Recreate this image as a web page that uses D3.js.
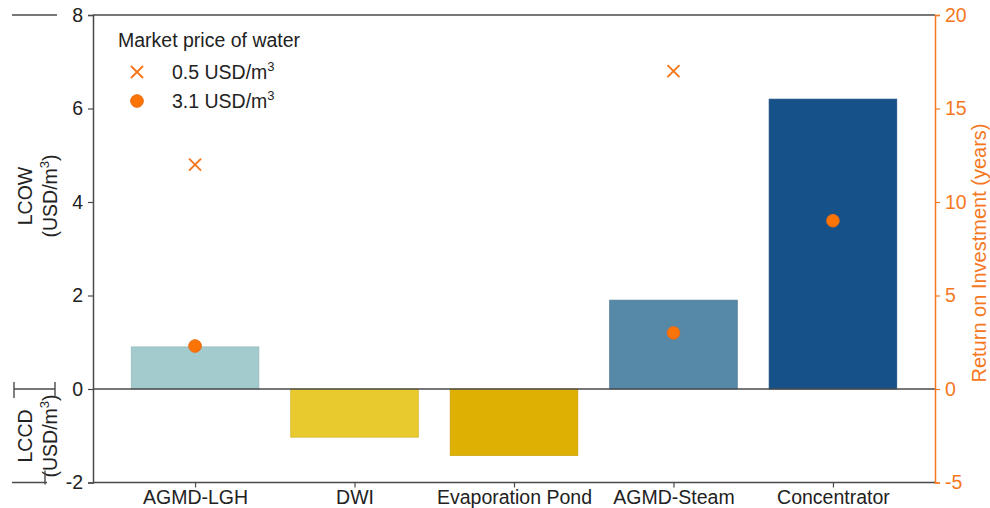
<!DOCTYPE html>
<html>
<head>
<meta charset="utf-8">
<script src="https://cdn.jsdelivr.net/npm/d3@7/dist/d3.min.js"></script>
<style>
  html, body { margin: 0; padding: 0; background: #fff; }
  svg { display: block; font-family: "Liberation Sans", Arial, sans-serif; }
</style>
</head>
<body>
<svg id="chart" width="990" height="508"></svg>
<script>
// Treatment options and their levelized costs (USD/m3; negative = disposal cost)
const categories = ["AGMD-LGH", "DWI", "Evaporation Pond", "AGMD-Steam", "Concentrator"];
const costValues = [0.9, -1.03, -1.42, 1.9, 6.2];
const barColors = ["#a3cbce", "#e8c92e", "#dfb004", "#5688a8", "#17518a"];

// Return on investment (years) at two market prices of water
const roiLowPrice = [12, null, null, 17, null];   // 0.5 USD/m3
const roiHighPrice = [2.3, null, null, 3.0, 9.0]; // 3.1 USD/m3

const leftTicks = [-2, 0, 2, 4, 6, 8];
const rightTicks = [-5, 0, 5, 10, 15, 20];

const orange = "#f5781e";
const spine = "#4a4a4a";
const textCol = "#222";
const fontSize = 19.5;

const svg = d3.select("#chart");

const plot = { left: 93, right: 935, top: 15, bottom: 482.5 };

// x: bar index, bars 0.8 wide with a 5% margin either side
const x = d3.scaleLinear().domain([-0.64, 4.64]).range([plot.left, plot.right]);
const y = d3.scaleLinear().domain([-2, 8]).range([plot.bottom, plot.top]);
const y2 = d3.scaleLinear().domain([-5, 20]).range([plot.bottom, plot.top]);

// plain hyphen for negative tick values
const plainFormat = d => String(d);

// Bars
svg.append("g").selectAll("rect")
  .data(costValues)
  .join("rect")
  .attr("x", (d, i) => x(i - 0.4))
  .attr("width", (d, i) => x(i + 0.4) - x(i - 0.4))
  .attr("y", d => y(Math.max(0, d)))
  .attr("height", d => Math.abs(y(d) - y(0)))
  .attr("fill", (d, i) => barColors[i])
  .attr("stroke", (d, i) => d3.color(barColors[i]).darker(0.25))
  .attr("stroke-width", 0.8);

// Zero line
svg.append("line")
  .attr("x1", plot.left).attr("x2", plot.right)
  .attr("y1", y(0)).attr("y2", y(0))
  .attr("stroke", spine).attr("stroke-width", 1.5);

// Frame: top and bottom in grey
svg.append("line").attr("x1", plot.left).attr("x2", plot.right)
  .attr("y1", plot.top).attr("y2", plot.top)
  .attr("stroke", spine).attr("stroke-width", 1.5);
svg.append("line").attr("x1", plot.left).attr("x2", plot.right)
  .attr("y1", plot.bottom).attr("y2", plot.bottom)
  .attr("stroke", spine).attr("stroke-width", 1.5);

// Left axis
const gLeft = svg.append("g")
  .attr("transform", `translate(${plot.left},0)`)
  .call(d3.axisLeft(y).tickValues(leftTicks).tickFormat(plainFormat).tickSize(5).tickPadding(5));
gLeft.select(".domain").attr("stroke", spine).attr("stroke-width", 1.5);
gLeft.selectAll(".tick line").attr("stroke", spine).attr("stroke-width", 1.2);
gLeft.selectAll(".tick text").attr("fill", textCol).attr("font-size", fontSize).attr("font-family", null);

// Right axis in orange
const gRight = svg.append("g")
  .attr("transform", `translate(${plot.right},0)`)
  .call(d3.axisRight(y2).tickValues(rightTicks).tickFormat(plainFormat).tickSize(5).tickPadding(5));
gRight.select(".domain").attr("stroke", orange).attr("stroke-width", 1.5);
gRight.selectAll(".tick line").attr("stroke", orange).attr("stroke-width", 1.2);
gRight.selectAll(".tick text").attr("fill", orange).attr("font-size", fontSize).attr("font-family", null);

// Bottom axis (category labels)
const gBottom = svg.append("g")
  .attr("transform", `translate(0,${plot.bottom})`)
  .call(d3.axisBottom(x).tickValues(d3.range(categories.length)).tickSize(5).tickPadding(3)
    .tickFormat(i => categories[i]));
gBottom.select(".domain").remove();
gBottom.selectAll(".tick line").attr("stroke", spine).attr("stroke-width", 1.2);
gBottom.selectAll(".tick text").attr("fill", textCol).attr("font-size", fontSize).attr("font-family", null);

// Right axis title
svg.append("text")
  .attr("transform", `translate(986,253) rotate(-90)`)
  .attr("text-anchor", "middle")
  .attr("fill", orange)
  .attr("font-size", 20)
  .text("Return on Investment (years)");

// Left axis titles with superscript units
function unitLabel(g, cx, cy, first) {
  const t = g.append("text")
    .attr("transform", `translate(${cx},${cy}) rotate(-90)`)
    .attr("text-anchor", "middle")
    .attr("fill", textCol)
    .attr("font-size", fontSize);
  t.append("tspan").attr("x", 0).attr("dy", 0).text(first);
  const t2 = t.append("tspan").attr("x", 0).attr("dy", 25);
  t2.append("tspan").text("(USD/m");
  t2.append("tspan").attr("font-size", 13).attr("dy", -8).text("3");
  t2.append("tspan").attr("dy", 8).text(")");
}
const gTitles = svg.append("g");
unitLabel(gTitles, 32, 196, "LCOW");
unitLabel(gTitles, 32, 436, "LCCD");

// Separator strokes beside the titles
const sep = svg.append("g").attr("stroke", spine).attr("stroke-width", 1.4);
sep.append("line").attr("x1", 12).attr("x2", 57).attr("y1", plot.top).attr("y2", plot.top);
sep.append("line").attr("x1", 14).attr("x2", 55).attr("y1", y(0)).attr("y2", y(0));
sep.append("line").attr("x1", 14).attr("x2", 14).attr("y1", y(0) - 7).attr("y2", y(0) + 9);
sep.append("line").attr("x1", 55).attr("x2", 55).attr("y1", y(0) - 7).attr("y2", y(0) + 9);
sep.append("line").attr("x1", 12).attr("x2", 47).attr("y1", plot.bottom).attr("y2", plot.bottom);
sep.append("line").attr("x1", 45).attr("x2", 45).attr("y1", plot.bottom - 12).attr("y2", plot.bottom + 2);

// ROI markers
const crossPath = "M-6,-6L6,6M-6,6L6,-6";
svg.append("g").selectAll("path")
  .data(roiLowPrice.map((v, i) => ({ v, i })).filter(d => d.v !== null))
  .join("path")
  .attr("transform", d => `translate(${x(d.i)},${y2(d.v)})`)
  .attr("d", crossPath)
  .attr("stroke", orange).attr("stroke-width", 2).attr("fill", "none");

svg.append("g").selectAll("circle")
  .data(roiHighPrice.map((v, i) => ({ v, i })).filter(d => d.v !== null))
  .join("circle")
  .attr("cx", d => x(d.i)).attr("cy", d => y2(d.v))
  .attr("r", 6.3)
  .attr("fill", "#fb7405").attr("stroke", "#ea6a10").attr("stroke-width", 1);

// Legend
const lg = svg.append("g");
lg.append("text").attr("x", 118).attr("y", 47).attr("fill", textCol)
  .attr("font-size", fontSize).text("Market price of water");
lg.append("path").attr("transform", "translate(137,72)").attr("d", crossPath)
  .attr("stroke", orange).attr("stroke-width", 2).attr("fill", "none");
lg.append("circle").attr("cx", 137).attr("cy", 101).attr("r", 6.3)
  .attr("fill", "#fb7405").attr("stroke", "#ea6a10").attr("stroke-width", 1);
function legendText(yPos, label) {
  const t = lg.append("text").attr("x", 172).attr("y", yPos).attr("fill", textCol).attr("font-size", fontSize);
  t.append("tspan").text(label + " USD/m");
  t.append("tspan").attr("font-size", 13).attr("dy", -8).text("3");
}
legendText(79, "0.5");
legendText(108, "3.1");
</script>
</body>
</html>
